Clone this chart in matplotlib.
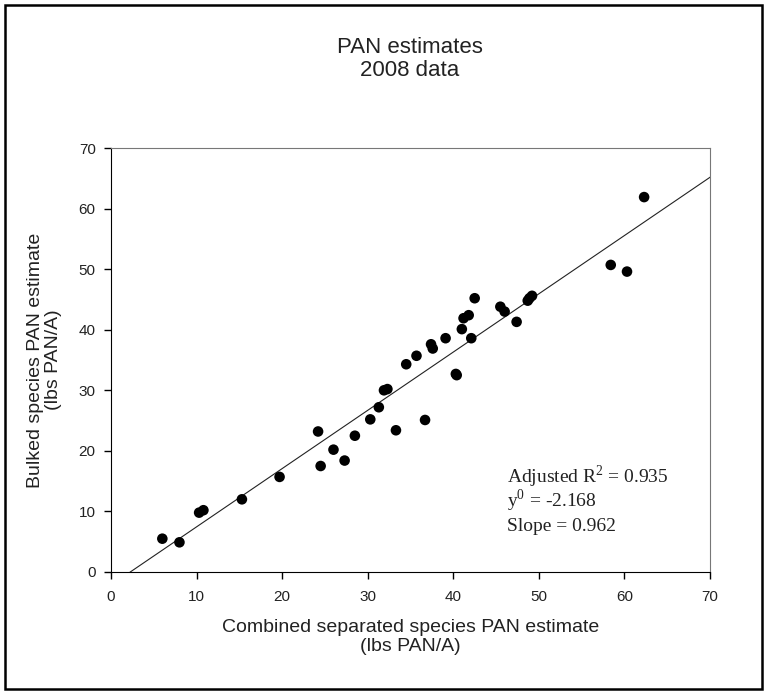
import numpy as np
import matplotlib
matplotlib.use("Agg")
import matplotlib.pyplot as plt
from matplotlib.patches import Rectangle

plt.rcParams['font.family'] = ['Liberation Sans', 'DejaVu Sans']
plt.rcParams['mathtext.fontset'] = 'custom'
plt.rcParams['mathtext.rm'] = 'Liberation Serif'

# Combined separated vs bulked species PAN estimates (lbs PAN/A), 2008
combined = [6.0, 8.0, 10.3, 10.8, 15.3, 19.7, 24.2, 24.5, 26.0, 27.3,
            28.5, 30.3, 31.3, 31.9, 32.3, 33.3, 34.5, 35.7, 36.7, 37.4,
            37.6, 39.1, 40.3, 40.4, 41.0, 41.2, 41.8, 42.1, 42.5, 45.5,
            46.0, 47.4, 48.7, 48.9, 49.2, 58.4, 60.3, 62.3]
bulked = [5.5, 4.9, 9.8, 10.2, 12.0, 15.7, 23.2, 17.5, 20.2, 18.4,
          22.5, 25.2, 27.2, 30.0, 30.2, 23.4, 34.3, 35.7, 25.1, 37.6,
          36.9, 38.6, 32.7, 32.5, 40.1, 41.9, 42.4, 38.6, 45.2, 43.8,
          43.0, 41.3, 44.8, 45.2, 45.6, 50.7, 49.6, 61.9]

# regression results
adj_r2 = 0.935
y0 = -2.168
slope = 0.962

fig = plt.figure(figsize=(7.67, 6.94), dpi=100)
ax = fig.add_axes([0.1447, 0.1758, 0.7810, 0.6109])

ax.scatter(combined, bulked, s=58, color='black', zorder=3, edgecolors='none')

# fitted line from where it crosses y=0 out to the right edge
x_fit = np.array([-y0 / slope, 70])
ax.plot(x_fit, y0 + slope * x_fit, color='#222222', lw=0.8)

ax.set_xlim(0, 70)
ax.set_ylim(0, 70)
ax.set_xticks(np.arange(0, 71, 10))
ax.set_yticks(np.arange(0, 71, 10))
ax.tick_params(direction='out', length=5, width=1, labelsize=11, labelcolor='#222222')
ax.tick_params(axis='x', pad=8)
ax.tick_params(axis='y', pad=6)
for side in ['top', 'right']:
    ax.spines[side].set_color('#777777')
for side in ['left', 'bottom']:
    ax.spines[side].set_color('black')

ax.set_xlabel('Combined separated species PAN estimate\n(lbs PAN/A)', fontsize=14,
              labelpad=11, color='#222222', linespacing=1.1)
ax.set_ylabel('Bulked species PAN estimate\n(lbs PAN/A)', fontsize=14,
              labelpad=12, color='#222222', linespacing=1.1)
fig.text(0.5346, 0.915, 'PAN estimates\n2008 data', ha='center', va='center',
         fontsize=16, color='#222222', linespacing=1.15)

# fit statistics, one line each
txt = dict(fontsize=14, family='Liberation Serif', color='#222222')
ax.text(46.3, 14.7, 'Adjusted R$^{\\mathrm{2}}$ = %.3f' % adj_r2, **txt)
ax.text(46.3, 10.7, 'y$^{\\mathrm{0}}$ = %.3f' % y0, **txt)
ax.text(46.3, 6.8, 'Slope = %.3f' % slope, **txt)

# border round the whole figure
fig.patches.append(Rectangle((0.007, 0.007), 0.986, 0.986, transform=fig.transFigure,
                             fill=False, lw=1.8, ec='black'))

fig.savefig('out.png', dpi=100)
